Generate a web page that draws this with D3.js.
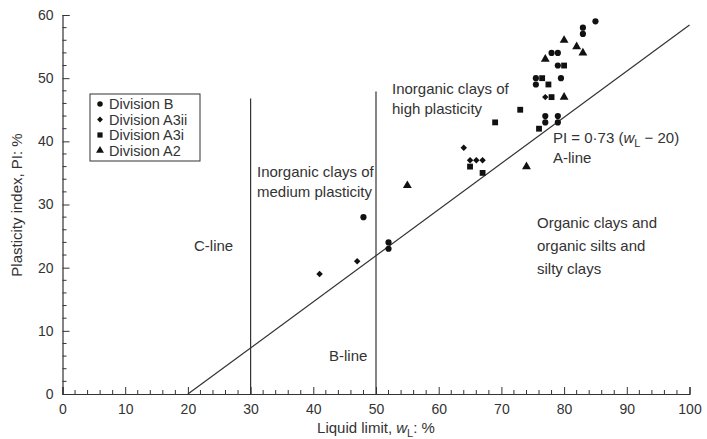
<!DOCTYPE html>
<html><head><meta charset="utf-8">
<script src="https://cdn.jsdelivr.net/npm/d3@7"></script>
<style>body{margin:0;background:#fff}svg{display:block}text{font-family:"Liberation Sans",Arial,sans-serif;fill:#333}</style>
</head><body><div id="chart"></div>
<script>
const divisionB = [[85,59],[83,58],[83,57],[78,54],[79,54],[79,52],[75.5,50],[79.5,50],[75.5,49],[77,44],[77,43],[79,44],[79,43],[48,28],[52,24],[52,23]];
const divisionA3ii = [[77,47],[64,39],[65,37],[66,37],[67,37],[47,21],[41,19]];
const divisionA3i = [[80,52],[76.5,50],[77.5,49],[78,47],[73,45],[69,43],[76,42],[65,36],[67,35]];
const divisionA2 = [[80,56],[82,55],[83,54],[77,53],[80,47],[74,36],[55,33]];
const seriesNames = ["Division B","Division A3ii","Division A3i","Division A2"];
const xTicks = [0,10,20,30,40,50,60,70,80,90,100];
const yTicks = [0,10,20,30,40,50,60];
const aLine = [[20,0],[100,58.4]];
const cLine = [[30,0],[30,46.8]];
const bLine = [[50,0],[50,47.9]];

const W=707,H=439;
const svg=d3.select("#chart").append("svg").attr("width",W).attr("height",H);
const x=d3.scaleLinear().domain([0,100]).range([62.5,689.5]);
const y=d3.scaleLinear().domain([0,60]).range([394,15]);
const ink="#333";

const xAxis=d3.axisBottom(x).tickValues(xTicks).tickSize(-7).tickPadding(9).tickFormat(d3.format("d"));
const yAxis=d3.axisLeft(y).tickValues(yTicks).tickSize(-7).tickPadding(9).tickFormat(d3.format("d"));
const gx=svg.append("g").attr("transform","translate(0,394)").call(xAxis);
const gy=svg.append("g").attr("transform","translate(62.5,0)").call(yAxis);
[gx,gy].forEach(g=>{g.select(".domain").attr("stroke",ink).attr("stroke-width",1.2);
 g.selectAll(".tick line").attr("stroke",ink);
 g.selectAll(".tick text").style("font-size","14px").attr("fill",ink);});
gx.selectAll(".tick text").attr("dy","0.78em");
const xMinor=d3.range(0,101,2).filter(v=>v%10!==0);
const yMinor=d3.range(0,61,2).filter(v=>v%10!==0);
svg.append("g").selectAll("line").data(xMinor).join("line")
 .attr("x1",d=>x(d)).attr("x2",d=>x(d)).attr("y1",394).attr("y2",390).attr("stroke",ink);
svg.append("g").selectAll("line").data(yMinor).join("line")
 .attr("y1",d=>y(d)).attr("y2",d=>y(d)).attr("x1",62.5).attr("x2",66.5).attr("stroke",ink);

const line=d3.line().x(d=>x(d[0])).y(d=>y(d[1]));
[aLine,cLine,bLine].forEach(l=>svg.append("path").attr("d",line(l)).attr("stroke",ink).attr("stroke-width",1.2).attr("fill","none"));

const sym=[d3.symbolCircle,d3.symbolSquare,d3.symbolSquare,d3.symbolTriangle];
const rot=[0,45,0,0];
const sizes=[30,21,34,34];
const data=[divisionB,divisionA3ii,divisionA3i,divisionA2];
data.forEach((pts,i)=>{
 svg.append("g").selectAll("path").data(pts).join("path")
  .attr("d",d3.symbol(sym[i],sizes[i]))
  .attr("transform",d=>`translate(${x(d[0])},${y(d[1])}) rotate(${rot[i]})`)
  .attr("fill","#111");
});

const lg=svg.append("g");
lg.append("rect").attr("x",90).attr("y",94).attr("width",110).attr("height",67).attr("fill","#fff").attr("stroke",ink);
seriesNames.forEach((n,i)=>{
 const yy=104+i*15.5;
 lg.append("path").attr("d",d3.symbol(sym[i],sizes[i]*0.8)).attr("transform",`translate(100,${yy}) rotate(${rot[i]})`).attr("fill","#111");
 lg.append("text").attr("x",109).attr("y",yy+5).style("font-size","14.5px").text(n);
});

function txt(xp,yp,s){return svg.append("text").attr("x",xp).attr("y",yp).style("font-size","15px").text(s);}
txt(392,94,"Inorganic clays of");
txt(392,114,"high plasticity");
txt(257,177,"Inorganic clays of");
txt(257,197,"medium plasticity");
txt(194,251,"C-line");
txt(329,361,"B-line");
const pi=txt(553,143,"PI = 0·73 (");
pi.append("tspan").style("font-style","italic").text("w");
pi.append("tspan").attr("dy",4).style("font-size","11px").text("L");
pi.append("tspan").attr("dy",-4).text(" − 20)");
txt(553,163,"A-line");
txt(537,228,"Organic clays and");
txt(537,251,"organic silts and");
txt(537,274,"silty clays");

const xl=svg.append("text").attr("x",376).attr("y",433).attr("text-anchor","middle").style("font-size","15px").text("Liquid limit, ");
xl.append("tspan").style("font-style","italic").text("w");
xl.append("tspan").attr("dy",4).style("font-size","11px").text("L");
xl.append("tspan").attr("dy",-4).text(": %");
svg.append("text").attr("transform","translate(22,205) rotate(-90)").attr("text-anchor","middle").style("font-size","15px").text("Plasticity index, PI: %");
</script></body></html>
